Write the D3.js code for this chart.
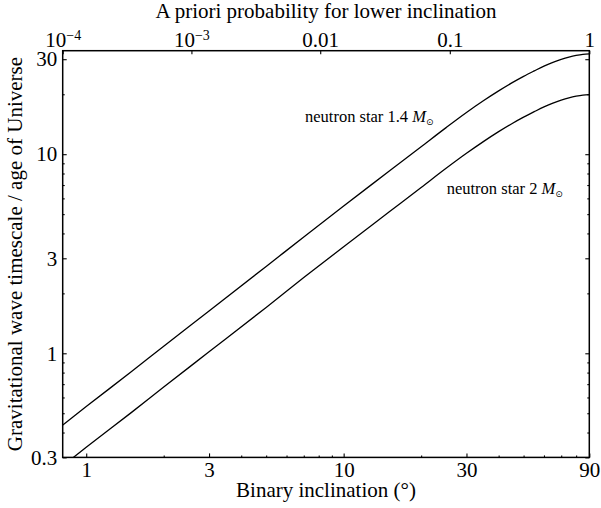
<!DOCTYPE html>
<html><head><meta charset="utf-8">
<script src="https://cdn.jsdelivr.net/npm/d3@7"></script>
<style>
body{margin:0;background:#fff}
svg{display:block}
text{font-family:"Liberation Serif","Times New Roman",serif;fill:#000}
</style>
</head><body>
<svg id="c" width="601" height="508"></svg>
<script>
// ---- data ----
const inclinations = [0.81, 1, 1.5, 2, 3, 5, 7, 10, 15, 20, 25, 30, 35, 40, 45, 50, 55, 60, 65, 70, 75, 80, 85, 90];
const ns14 = [0.436, 0.54, 0.81, 1.085, 1.63, 2.73, 3.84, 5.5, 8.2, 10.9, 13.6, 16.2, 18.6, 20.8, 22.8, 24.6, 26.2, 27.7, 28.95, 29.95, 30.75, 31.35, 31.75, 31.9];
const ns2  = [0.272, 0.337, 0.505, 0.677, 1.017, 1.70, 2.40, 3.43, 5.12, 6.80, 8.49, 10.1, 11.6, 12.98, 14.23, 15.35, 16.35, 17.28, 18.06, 18.69, 19.19, 19.56, 19.81, 19.9];
const seriesNames = ["neutron star 1.4 ", "neutron star 2 "];
const xMajorTicks = [1, 3, 10, 30, 90];
const xMinorTicks = [2, 4, 5, 6, 7, 8, 9, 20, 40, 50, 60, 70, 80];
const yMajorTicks = [0.3, 1, 3, 10, 30];
const yMinorTicks = [0.4, 0.5, 0.6, 0.7, 0.8, 0.9, 2, 4, 5, 6, 7, 8, 9, 20];
const probTicks = [1e-4, 1e-3, 0.01, 0.1, 1];
const probLabels = [["10", "−4"], ["10", "−3"], ["0.01"], ["0.1"], ["1"]];
const yDomain = [0.3, 33.1];

// ---- layout ----
const svg = d3.select("#c");
const L = 62.7, R = 589.3, T = 50.7, B = 457.4;
const deg = p => Math.acos(1 - p) * 180 / Math.PI;
const x = d3.scaleLog().domain([deg(1e-4), 90]).range([L, R]);
const y = d3.scaleLog().domain(yDomain).range([B, T]);

// clip
svg.append("clipPath").attr("id", "clip").append("rect")
  .attr("x", L).attr("y", T).attr("width", R - L).attr("height", B - T);

// curves
const line = d3.line().x(d => x(d[0])).y(d => y(d[1])).curve(d3.curveMonotoneX);
[ns14, ns2].forEach(s => {
  svg.append("path")
    .datum(inclinations.map((v, i) => [v, s[i]]))
    .attr("clip-path", "url(#clip)")
    .attr("fill", "none").attr("stroke", "#000").attr("stroke-width", 1.3)
    .attr("d", line);
});

const fs = 21;
// bottom axis
svg.append("g").attr("transform", `translate(0,${B})`)
  .call(d3.axisBottom(x).tickValues(xMajorTicks).tickFormat(d3.format("d")).tickSizeInner(-4).tickSizeOuter(0).tickPadding(4.5));
svg.append("g").attr("transform", `translate(0,${B})`)
  .call(d3.axisBottom(x).tickValues(xMinorTicks).tickFormat("").tickSizeInner(-2).tickSizeOuter(0));
// left axis
svg.append("g").attr("transform", `translate(${L},0)`)
  .call(d3.axisLeft(y).tickValues(yMajorTicks).tickFormat(d => String(d)).tickSizeInner(-4).tickSizeOuter(0).tickPadding(5.4));
svg.append("g").attr("transform", `translate(${L},0)`)
  .call(d3.axisLeft(y).tickValues(yMinorTicks).tickFormat("").tickSizeInner(-2).tickSizeOuter(0));
// right axis (mirror)
svg.append("g").attr("transform", `translate(${R},0)`)
  .call(d3.axisRight(y).tickValues(yMajorTicks).tickFormat("").tickSizeInner(-4).tickSizeOuter(0));
svg.append("g").attr("transform", `translate(${R},0)`)
  .call(d3.axisRight(y).tickValues(yMinorTicks).tickFormat("").tickSizeInner(-2).tickSizeOuter(0));
// top axis (a priori probability)
const gT = svg.append("g").attr("transform", `translate(0,${T})`)
  .call(d3.axisTop(x).tickValues(probTicks.map(deg)).tickFormat("").tickSizeInner(-3.5).tickSizeOuter(0).tickPadding(4));
gT.selectAll(".tick text").each(function(d, i) {
  const t = d3.select(this);
  const lab = probLabels[i];
  t.text(null);
  t.append("tspan").text(lab[0]);
  if (lab[1]) t.append("tspan").attr("font-size", 14).attr("dy", -7).text(lab[1]);
});

svg.selectAll(".domain").remove();
svg.selectAll(".tick line").attr("stroke", "#000").attr("stroke-width", 1.1);
svg.selectAll(".tick text").attr("font-size", fs).attr("font-family", null);

// frame
svg.append("rect").attr("x", L).attr("y", T).attr("width", R - L).attr("height", B - T)
  .attr("fill", "none").attr("stroke", "#000").attr("stroke-width", 1.5);

// titles
svg.append("text").attr("x", (L + R) / 2).attr("y", 497).attr("text-anchor", "middle")
  .attr("font-size", 21).text("Binary inclination (°)");
svg.append("text").attr("x", (L + R) / 2).attr("y", 17.5).attr("text-anchor", "middle")
  .attr("font-size", 21).text("A priori probability for lower inclination");
svg.append("text").attr("transform", `translate(22,${(T + B) / 2}) rotate(-90)`).attr("text-anchor", "middle")
  .attr("font-size", 21).text("Gravitational wave timescale / age of Universe");

// annotations
const annPos = [[305, 121.7], [446.7, 194]];
seriesNames.forEach((n, i) => {
  const t = svg.append("text").attr("x", annPos[i][0]).attr("y", annPos[i][1]).attr("font-size", 16.5);
  t.append("tspan").text(n);
  t.append("tspan").attr("font-style", "italic").text("M");
  t.append("tspan").attr("font-size", 9).attr("dy", 3).attr("font-family", "DejaVu Sans").text("⊙");
});
</script>
</body></html>
